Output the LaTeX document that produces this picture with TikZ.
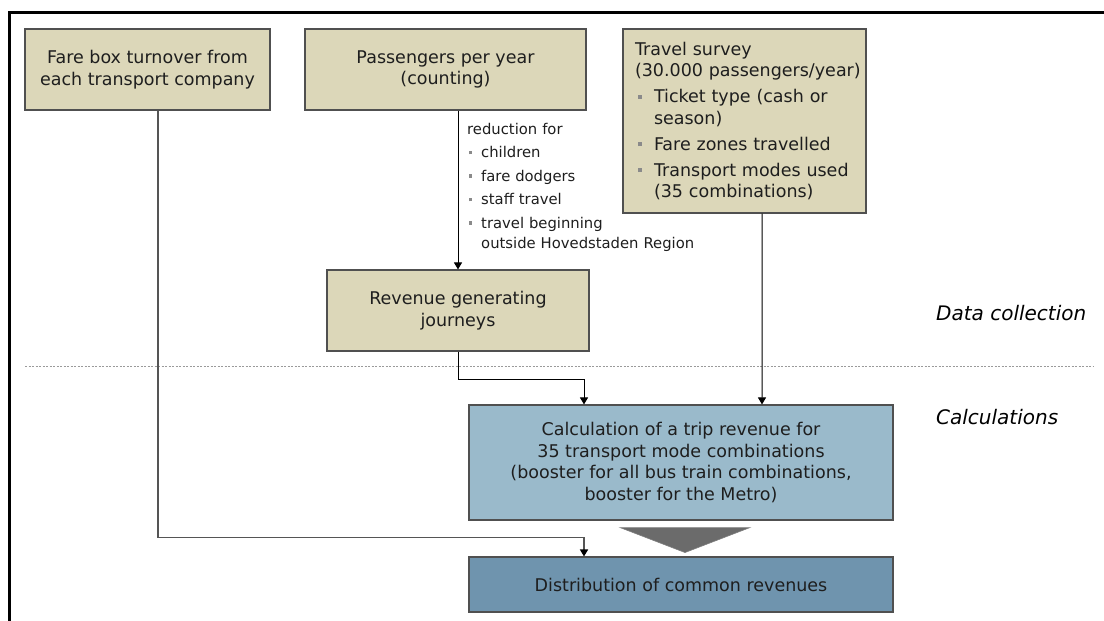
\documentclass[tikz,border=0pt]{standalone}
\usepackage{fontspec}
\setmainfont{DejaVu Sans}
\usetikzlibrary{arrows.meta,calc}

\definecolor{sandfill}{HTML}{DCD7B9}
\definecolor{calcfill}{HTML}{9ABACB}
\definecolor{distfill}{HTML}{6F94AE}
\definecolor{boxline}{HTML}{505050}
\definecolor{textcol}{HTML}{1E1E1E}
\definecolor{bulletgray}{HTML}{8A8A8A}
\definecolor{trifill}{HTML}{6B6B6B}
\definecolor{feedline}{HTML}{555555}
\definecolor{sepline}{HTML}{9A9A9A}

% square bullets with hanging indent, large and small variants
\newcommand{\bigbul}{\makebox[19bp][l]{\hspace{3bp}\textcolor{bulletgray}{\rule[4bp]{4bp}{4bp}}}}
\newcommand{\bigitem}[1]{\par\vspace{4.5bp}\noindent\hangindent=19bp\hangafter=1\bigbul#1\par}
\newcommand{\smbul}{\makebox[14bp][l]{\hspace{1.5bp}\textcolor{bulletgray}{\rule[3.5bp]{3.6bp}{3.6bp}}}}
\newcommand{\smitem}[1]{\par\vspace{3.5bp}\noindent\hangindent=14bp\hangafter=1\smbul#1\par}

\begin{document}
\begin{tikzpicture}[x=1bp,y=-1bp,
  mainfont/.style={font=\fontsize{17.5bp}{21.5bp}\selectfont, text=textcol},
  box/.style={mainfont, draw=boxline, line width=1.1bp, inner sep=0pt, align=center},
  sandbox/.style={box, fill=sandfill},
  calcbox/.style={box, fill=calcfill},
  distbox/.style={box, fill=distfill},
  conn/.style={draw=black, line width=1bp, -{Triangle[width=8bp,length=7bp]}},
  feed/.style={draw=feedline, line width=1.6bp, -{Triangle[width=8bp,length=7bp,color=black]}},
  phase/.style={font=\fontsize{20bp}{24bp}\selectfont\itshape, text=black, anchor=west, inner sep=0pt},
  note/.style={font=\fontsize{14.8bp}{20bp}\selectfont, text=textcol, align=left, inner sep=0pt, text width=230bp, anchor=north west}
]
\useasboundingbox (0,0) rectangle (1104,621);

% outer frame (top and left edges)
\draw[line width=2.3bp, line cap=rect] (9.5,621) -- (9.5,12.5) -- (1104,12.5);

% separator between the two phases
\draw[sepline, line width=0.8bp, dash pattern=on 2bp off 1.5bp] (25,366) -- (1093,366);

% phase labels
\node[phase] (lbldata) at (936,313) {Data collection};
\node[phase] (lblcalc) at (936,417) {Calculations};

% data sources
\node[sandbox, minimum width=245bp, minimum height=81bp] (fare) at (147.5,69.5)
  {Fare box turnover from\\each transport company};
\node[sandbox, minimum width=281bp, minimum height=81bp] (pass) at (445.5,69.5)
  {Passengers per year\\(counting)};
\node[sandbox, minimum width=243bp, minimum height=184bp, align=left,
      text width=219bp, inner xsep=12bp] (survey) at (744.5,121)
  {\noindent\mbox{Travel survey}\newline\mbox{(30.000 passengers/year)}%
   \bigitem{\mbox{Ticket type (cash or}\newline season)}%
   \bigitem{\mbox{Fare zones travelled}}%
   \bigitem{\mbox{Transport modes used}\newline\mbox{(35 combinations)}}};

\node[sandbox, minimum width=262bp, minimum height=81bp] (rev) at (458,310.5)
  {Revenue generating\\journeys};

% reductions applied to the passenger count
\node[note] (reduc) at (467,123)
  {\noindent reduction for%
   \smitem{children}%
   \smitem{fare dodgers}%
   \smitem{staff travel}%
   \smitem{travel beginning\newline\mbox{outside Hovedstaden Region}}};

% calculation and distribution
\node[calcbox, minimum width=424bp, minimum height=115bp] (calc) at (681,462.5)
  {Calculation of a trip revenue for\\35 transport mode combinations\\(booster for all bus train combinations,\\booster for the Metro)};
\node[distbox, minimum width=424bp, minimum height=55bp] (dist) at (681,584.5)
  {Distribution of common revenues};

% flow arrow from calculation to distribution
\draw[draw=gray, fill=trifill, line width=0.6bp]
  ($(calc.south)+(-61,7)$) -- ($(calc.south)+(69,7)$) -- ($(calc.south)+(4,32)$) -- cycle;

% connectors
\draw[conn] (rev.north |- pass.south) -- (rev.north);
\draw[conn] (rev.south) -- ++(0,27.5) -| ([xshift=-97bp]calc.north);
\draw[conn] ([xshift=17.5bp]survey.south) -- ([xshift=81bp]calc.north);
\draw[feed] ([xshift=10.5bp]fare.south) -- ++(0,427) -| ([xshift=-97bp]dist.north);

\end{tikzpicture}
\end{document}
